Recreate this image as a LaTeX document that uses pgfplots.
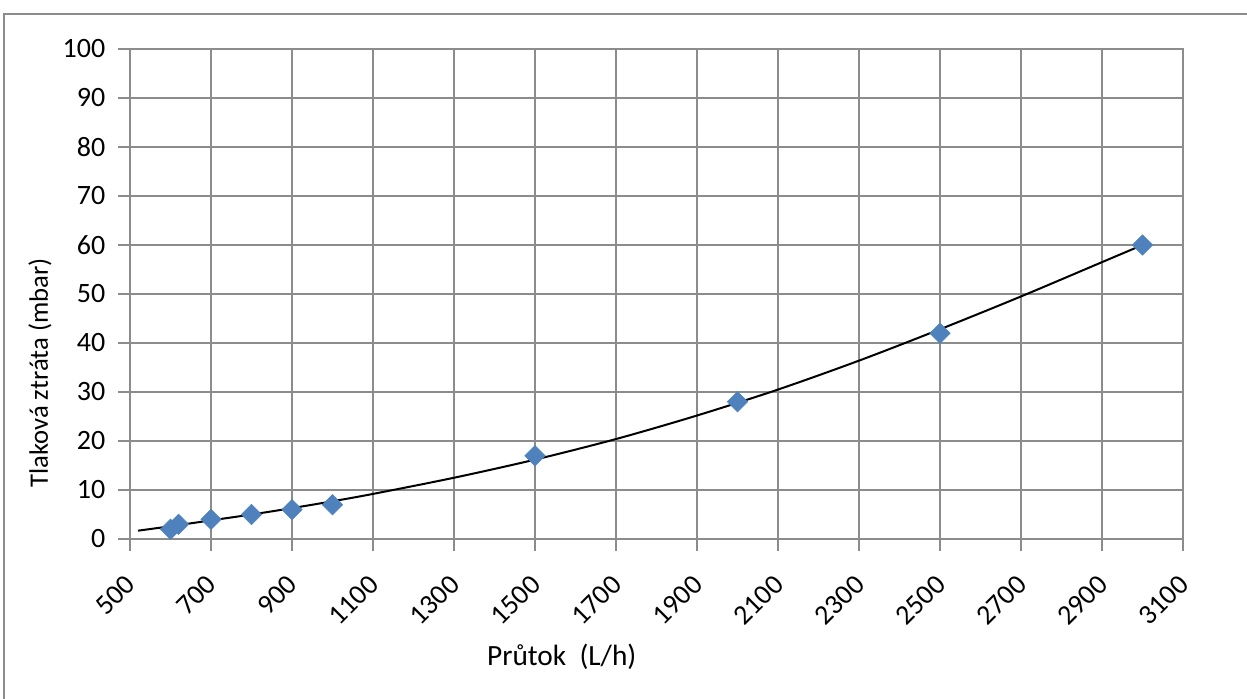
\documentclass[border=0pt]{standalone}
\usepackage{pgfplots}
\pgfplotsset{compat=1.18}
\usepackage{fontspec}
\setmainfont{Carlito}
\definecolor{exblue}{HTML}{4F81BD}
\definecolor{gridgray}{HTML}{8C8C8C}
\pgfplotstableread{
x y
600 2
620 3
700 4
800 5
900 6
1000 7
1500 17
2000 28
2500 42
3000 60
}\measured
\pgfplotstableread{
x y
520 1.7
600 2.6
700 3.8
800 5.0
900 6.3
1000 7.7
1100 9.2
1300 12.5
1500 16.2
1700 20.4
1900 25.2
2100 30.5
2300 36.4
2500 42.8
2700 49.5
2900 56.5
3000 60.0
}\trend
\begin{document}
\begin{tikzpicture}
\useasboundingbox (0,0) rectangle (935.25pt,524.25pt);
\draw[gridgray, line width=1.6pt] (3pt,-2pt) -- (3pt,513.75pt) -- (940pt,513.75pt);
\begin{axis}[
  at={(97.5pt,120pt)}, anchor=south west,
  scale only axis, width=789.75pt, height=367.5pt,
  xmin=500, xmax=3100, ymin=0, ymax=100,
  xtick={500,700,...,3100}, ytick={0,10,...,100},
  grid=major,
  major grid style={color=gridgray, line width=1.2pt},
  axis line style={color=gridgray, line width=1.6pt},
  tick style={color=gridgray, line width=1.4pt},
  tick align=outside, major tick length=9pt,
  xtick pos=bottom, ytick pos=left,
  /pgf/number format/assume math mode=true,
  /pgf/number format/1000 sep={},
  ticklabel style={font=\fontsize{21}{23}\selectfont},
  xticklabel style={xshift=3pt, yshift=-19pt, rotate=45, anchor=east},
  yticklabel style={anchor=east, xshift=-6pt},
  label style={font=\fontsize{22}{25}\selectfont},
  xlabel={Průtok\ \ (L/h)},
  ylabel={\fontsize{20}{23}\selectfont Tlaková ztráta (mbar)},
  xlabel style={at={(axis description cs:0.41,0)}, anchor=center, yshift=-88.5pt},
  ylabel style={at={(axis description cs:0,0.339)}, anchor=center, yshift=67.5pt},
]
\addplot[black, line width=1.5pt, smooth, no marks] table[x=x,y=y] {\trend};
\addplot[only marks, mark=square*, mark size=5.4pt, mark options={rotate=45, fill=exblue, draw=exblue}] table[x=x,y=y] {\measured};
\end{axis}
\end{tikzpicture}
\end{document}
